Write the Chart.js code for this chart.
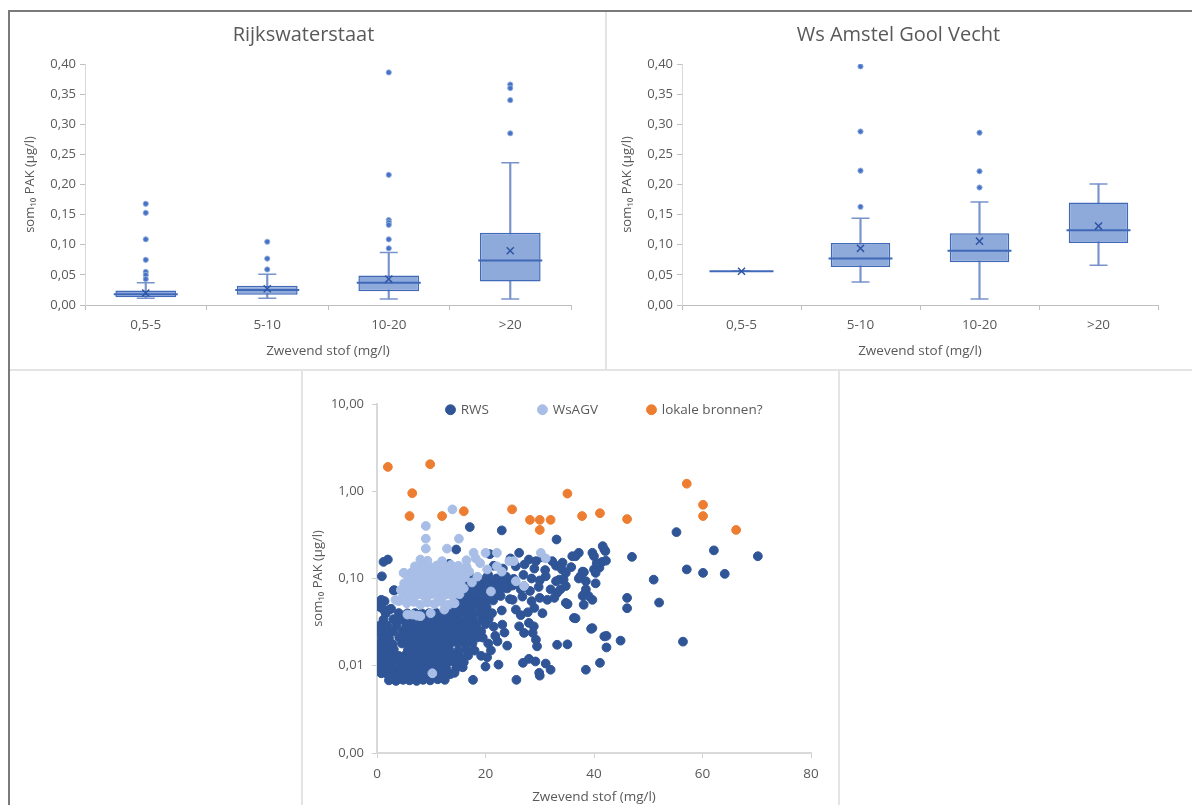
<!DOCTYPE html>
<html><head><meta charset="utf-8">
<script src="https://cdn.jsdelivr.net/npm/chart.js@4.4.0/dist/chart.umd.min.js"></script>
<style>
html,body{margin:0;padding:0;background:#fff;width:1192px;height:805px;overflow:hidden;position:relative;}
.abs{position:absolute;}
.sep{position:absolute;background:#e4e4e4;}
</style></head><body>
<div class="abs" style="left:8px;top:10px;width:2px;height:795px;background:#7a7a7a"></div>
<div class="abs" style="left:8px;top:10px;width:1184px;height:2px;background:#7a7a7a"></div>
<div class="sep" style="left:605px;top:12px;width:2px;height:358px"></div>
<div class="sep" style="left:10px;top:369px;width:1182px;height:2px"></div>
<div class="sep" style="left:301px;top:371px;width:2px;height:434px"></div>
<div class="sep" style="left:838px;top:371px;width:2px;height:434px"></div>
<canvas id="c1" class="abs" style="left:10px;top:12px" width="595" height="356"></canvas>
<canvas id="c2" class="abs" style="left:607px;top:12px" width="585" height="356"></canvas>
<canvas id="c3" class="abs" style="left:303px;top:372px" width="535" height="433"></canvas>
<script>
// ---------- Box plot data ----------
const categories = ['0,5-5', '5-10', '10-20', '>20'];
const boxYTicks = [0, 0.05, 0.10, 0.15, 0.20, 0.25, 0.30, 0.35, 0.40];
const boxYLabels = ['0,00', '0,05', '0,10', '0,15', '0,20', '0,25', '0,30', '0,35', '0,40'];

// Rijkswaterstaat
const rwsMin    = [0.011, 0.011, 0.010, 0.010];
const rwsQ1     = [0.013, 0.017, 0.023, 0.039];
const rwsMedian = [0.018, 0.025, 0.037, 0.074];
const rwsQ3     = [0.024, 0.032, 0.049, 0.120];
const rwsMax    = [0.037, 0.051, 0.087, 0.236];
const rwsMean   = [0.020, 0.027, 0.043, 0.090];
const rwsOutliers = [
  [0.168, 0.153, 0.109, 0.075, 0.055, 0.050, 0.043],
  [0.105, 0.077, 0.059],
  [0.386, 0.216, 0.141, 0.137, 0.133, 0.109, 0.094],
  [0.366, 0.360, 0.340, 0.285]
];

// Ws Amstel Gooi Vecht
const agvMin    = [0.056, 0.038, 0.010, 0.066];
const agvQ1     = [0.056, 0.063, 0.071, 0.103];
const agvMedian = [0.056, 0.077, 0.090, 0.124];
const agvQ3     = [0.056, 0.103, 0.119, 0.170];
const agvMax    = [0.056, 0.144, 0.171, 0.201];
const agvMean   = [0.056, 0.094, 0.106, 0.131];
const agvOutliers = [
  [],
  [0.396, 0.288, 0.223, 0.163],
  [0.286, 0.222, 0.195],
  []
];

// ---------- Scatter data [Zwevend stof, som PAK] ----------
const scatterXTicks = [0, 20, 40, 60, 80];
const scatterXLabels = ['0', '20', '40', '60', '80'];
const scatterYTicks = [0.001, 0.01, 0.1, 1, 10];
const scatterYLabels = ['0,00', '0,01', '0,10', '1,00', '10,00'];

const rwsPoints = [
  [2.2,0.0068],[3.5,0.0067],[4.8,0.0069],[6.0,0.0068],[7.3,0.0067],[8.5,0.0069],[9.8,0.0068],[11.2,0.0070],[12.5,0.0069],
  [0.8,0.0082],[2.0,0.0079],[3.3,0.0080],[4.6,0.0078],[5.9,0.0081],[7.2,0.0079],[8.4,0.0080],[9.7,0.0078],[11.0,0.0081],[12.3,0.0079],[13.5,0.0080],[14.3,0.0083],
  [0.3,0.0095],[1.5,0.0093],[2.8,0.0094],[4.1,0.0092],[5.4,0.0095],[6.6,0.0093],[7.9,0.0094],[9.1,0.0096],[10.4,0.0093],[11.6,0.0095],[12.8,0.0092],[14.6,0.0094],[15.8,0.0096],
  [0.5,0.0111],[1.8,0.0108],[3.0,0.0110],[4.3,0.0112],[5.6,0.0109],[6.9,0.0111],[8.1,0.0108],[9.4,0.0110],[10.7,0.0112],[11.9,0.0109],[13.2,0.0111],[14.4,0.0108],[16.0,0.0110],
  [0.2,0.0129],[1.4,0.0131],[2.7,0.0128],[4.0,0.0130],[5.2,0.0132],[6.5,0.0129],[7.8,0.0131],[9.0,0.0128],[10.3,0.0130],[11.5,0.0132],[12.8,0.0129],[14.0,0.0131],[15.3,0.0128],[16.8,0.0131],
  [0.6,0.0153],[1.9,0.0150],[3.1,0.0154],[5.7,0.0151],[7.0,0.0153],[8.2,0.0150],[9.5,0.0152],[10.8,0.0154],[12.0,0.0151],[13.3,0.0153],[15.0,0.0150],[16.5,0.0152],[18.0,0.0149],
  [0.3,0.0178],[1.6,0.0181],[2.9,0.0177],[4.6,0.0180],[5.9,0.0182],[7.2,0.0178],[8.5,0.0181],[9.7,0.0179],[11.0,0.0182],[12.2,0.0178],[13.5,0.0180],[14.8,0.0183],[16.2,0.0179],[17.6,0.0181],
  [0.9,0.0211],[2.2,0.0208],[4.1,0.0212],[5.4,0.0209],[6.7,0.0211],[7.9,0.0207],[9.2,0.0210],[10.4,0.0212],[11.7,0.0208],[12.9,0.0211],[14.2,0.0209],[15.5,0.0212],[17.0,0.0208],[18.5,0.0211],
  [0.4,0.0248],[1.7,0.0251],[3.0,0.0247],[4.7,0.0250],[6.0,0.0252],[7.3,0.0248],[8.5,0.0251],[9.8,0.0249],[11.0,0.0252],[12.3,0.0248],[13.6,0.0250],[15.0,0.0253],[16.4,0.0249],[17.8,0.0251],[19.2,0.0248],
  [0.6,0.0291],[1.9,0.0288],[3.6,0.0292],[5.4,0.0289],[6.6,0.0291],[7.9,0.0287],[9.1,0.0290],[10.4,0.0292],[11.6,0.0288],[12.9,0.0291],[14.3,0.0289],[15.7,0.0292],[17.0,0.0288],[18.3,0.0291],
  [1.2,0.0338],[3.0,0.0342],[4.6,0.0339],[6.0,0.0341],[7.3,0.0337],[8.6,0.0340],[9.9,0.0343],[11.2,0.0338],[12.5,0.0341],[13.8,0.0339],[15.1,0.0342],[16.5,0.0338],[17.8,0.0341],[19.4,0.0339],[20.6,0.0343],
  [1.6,0.0398],[4.0,0.0402],[5.6,0.0399],[7.0,0.0401],[8.3,0.0397],[9.6,0.0400],[10.9,0.0403],[12.2,0.0398],[13.6,0.0401],[15.0,0.0399],[16.4,0.0402],[17.6,0.0398],[19.0,0.0401],[20.5,0.0399],
  [0.6,0.047],[2.6,0.045],[13.5,0.046],[14.9,0.047],[16.2,0.046],[17.5,0.048],[18.9,0.046],[20.2,0.047],
  [0.5,0.053],[1.4,0.055],[14.6,0.054],[15.8,0.056],[17.2,0.053],[18.6,0.055],[20.0,0.054],[21.4,0.056],
  [15.5,0.063],[16.9,0.064],[18.2,0.062],[19.5,0.065],[21.0,0.063],[22.2,0.064],
  [3.1,0.073],[16.2,0.074],[17.6,0.076],[19.0,0.073],[20.4,0.075],[22.5,0.074],[24.0,0.077],
  [16.8,0.086],[18.3,0.088],[19.7,0.085],[21.2,0.089],[23.0,0.087],[24.5,0.086],
  [17.5,0.101],[18.9,0.098],[20.2,0.102],[23.4,0.100],[25.2,0.099],
  [20.8,0.19],[26.2,0.197],[28.0,0.165],[29.3,0.158],[32.3,0.158],[34.2,0.152],[36.0,0.18],[37.2,0.197],[39.7,0.197],[41.6,0.235],[41.9,0.215],[42.1,0.206],[40.0,0.18],[36.6,0.18],[30.5,0.175],[24.6,0.17],
  [21.5,0.14],[23.2,0.13],[25.6,0.138],[27.2,0.145],[29.0,0.13],[31.0,0.125],[33.0,0.14],[34.1,0.127],[35.8,0.135],[37.9,0.12],[38.1,0.118],[40.0,0.127],[41.0,0.133],[40.5,0.15],[41.5,0.155],[42.2,0.16],[40.3,0.116],[34.8,0.116],
  [20.5,0.11],[22.0,0.1],[23.8,0.105],[25.3,0.095],[27.0,0.11],[28.5,0.1],[30.0,0.095],[31.1,0.106],[33.6,0.097],[33.0,0.093],[34.4,0.097],[37.2,0.1],[37.5,0.106],[38.5,0.093],[40.3,0.088],
  [20.0,0.08],[21.6,0.085],[23.5,0.078],[25.0,0.083],[26.5,0.075],[27.1,0.082],[28.2,0.072],[29.8,0.08],[32.0,0.075],[33.8,0.075],[34.8,0.082],[38.5,0.075],[33.2,0.0685],
  [21.0,0.06],[22.8,0.063],[24.5,0.058],[25.0,0.057],[26.8,0.062],[28.5,0.055],[30.0,0.06],[31.4,0.057],[32.7,0.06],[34.8,0.0525],[35.1,0.051],[37.9,0.063],[38.1,0.065],[39.0,0.063],[39.7,0.057],[38.1,0.05],
  [20.0,0.045],[21.2,0.04],[23.0,0.043],[25.6,0.044],[26.5,0.038],[27.8,0.041],[29.0,0.046],[30.5,0.04],[36.3,0.0353],[36.6,0.035],
  [20.0,0.03],[21.5,0.028],[23.1,0.0296],[26.2,0.0283],[28.0,0.031],[28.9,0.0283],[39.5,0.0266],[39.7,0.027],[0.6,0.0283],
  [27.1,0.0238],[28.7,0.0238],[29.3,0.0199],[29.5,0.0167],[22.2,0.019],[33.2,0.0174],[35.1,0.0176],[41.9,0.0217],[42.3,0.0162],[44.9,0.0194],[56.4,0.0189],
  [22.4,0.0103],[20.0,0.0098],[26.9,0.0108],[28.0,0.012],[29.2,0.0112],[31.1,0.0106],[29.9,0.0083],[30.0,0.0077],[32.0,0.009],[25.7,0.0069],[17.7,0.0069],[38.5,0.009],[41.1,0.0108],
  [19.5,0.021],[20.5,0.018],[21.0,0.015],[19.2,0.013],[20.3,0.0125],[21.8,0.022],[23.5,0.024],[24.0,0.017],
  [17.1,0.389],[23.0,0.356],[33.1,0.28],[14.6,0.215],[2.0,0.165],[1.2,0.155],[0.9,0.106],[3.2,0.0734],[0.8,0.057],[1.2,0.044],[2.3,0.044],
  [11.4,0.138],[13.3,0.147],
  [55.2,0.34],[47.0,0.177],[62.1,0.21],[70.2,0.18],[57.1,0.127],[60.1,0.116],[64.1,0.113],[51.0,0.097],[52.0,0.053],[46.1,0.06],[46.1,0.0456],
  [38.1,0.118],[35.1,0.051],[42.3,0.022],[39.5,0.0266]
];

const agvPoints = [
  [5.6,0.0386],[6.5,0.0386],[7.4,0.0375],[8.0,0.037],[9.9,0.040],[12.4,0.044],
  [3.4,0.057],[4.0,0.055],[5.5,0.052],[6.8,0.054],[8.0,0.050],[9.3,0.053],[10.6,0.051],[11.9,0.054],[13.2,0.050],[14.3,0.052],
  [4.8,0.064],[6.1,0.062],[7.4,0.065],[8.7,0.063],[10.0,0.066],[11.3,0.062],[12.6,0.065],[13.9,0.063],[15.2,0.066],
  [4.4,0.074],[5.6,0.077],[6.9,0.073],[8.2,0.076],[9.5,0.074],[10.8,0.077],[12.1,0.073],[13.4,0.076],[14.7,0.074],[16.0,0.077],
  [5.0,0.088],[6.3,0.086],[7.6,0.090],[8.9,0.087],[10.2,0.085],[11.5,0.089],[12.8,0.086],[14.1,0.090],[15.4,0.087],
  [5.8,0.100],[7.0,0.103],[8.3,0.099],[9.6,0.102],[10.9,0.100],[12.2,0.104],[13.5,0.098],[14.8,0.101],[16.2,0.103],
  [4.9,0.116],[6.4,0.118],[7.7,0.115],[9.0,0.120],[10.3,0.117],[11.6,0.119],[12.9,0.116],[14.2,0.121],[15.6,0.118],[17.0,0.120],
  [7.0,0.138],[8.4,0.142],[9.7,0.137],[11.0,0.141],[12.3,0.139],[13.6,0.143],[15.0,0.140],[16.5,0.137],
  [8.0,0.165],[9.3,0.160],[12.0,0.158],[16.5,0.162],[18.2,0.170],
  [13.9,0.62],[9.0,0.40],[9.0,0.286],[9.0,0.22],[12.9,0.22],[15.1,0.286],[17.8,0.197],[20.0,0.197],[22.1,0.197],
  [20.3,0.127],[22.1,0.138],[23.0,0.12],[25.2,0.158],[30.2,0.197],[31.1,0.17],[24.4,0.158],[27.1,0.082],[25.6,0.093],[21.0,0.071],
  [10.2,0.0082],[5.0,0.116],[19.0,0.15],[18.5,0.105],[17.5,0.09]
];

const localPoints = [
  [2.0,1.90],[9.8,2.04],[6.5,0.95],[6.0,0.52],[12.0,0.52],[16.0,0.59],[24.9,0.62],
  [28.2,0.47],[30.0,0.47],[32.0,0.47],[30.0,0.36],[35.1,0.94],[37.8,0.52],[41.1,0.56],
  [46.1,0.48],[57.1,1.22],[60.1,0.70],[60.1,0.52],[66.2,0.36]
];

// ---------- styles ----------
Chart.defaults.font.family = "'Open Sans', 'DejaVu Sans', sans-serif";
Chart.defaults.color = '#595959';
const boxFill = '#8eaadb';
const boxLine = '#4069b8';
const whiskerColor = '#7893cc';
const meanColor = '#2f55a4';
const axisColor = '#bfbfbf';

function boxChart(id, titleText, mins, q1s, meds, q3s, maxs, means, outliers, padRight) {
  const boxData = categories.map((c, i) => [q1s[i], q3s[i]]);
  const whiskerData = categories.map((c, i) => [mins[i], maxs[i]]);
  const outlierPts = [];
  outliers.forEach((arr, i) => arr.forEach(v => outlierPts.push({x: categories[i], y: v})));
  return new Chart(document.getElementById(id), {
    type: 'bar',
    data: {
      labels: categories,
      datasets: [
        {type: 'bar', data: whiskerData, backgroundColor: whiskerColor, barThickness: 1.5, grouped: false, order: 5},
        {type: 'bar', data: boxData, backgroundColor: boxFill, borderColor: boxLine, borderWidth: 1.5,
         borderSkipped: false, barPercentage: 0.5, categoryPercentage: 1, grouped: false, order: 4},
        {type: 'line', data: mins, showLine: false, pointStyle: 'line', pointRadius: 9,
         pointBorderColor: whiskerColor, pointBorderWidth: 1.5, order: 3},
        {type: 'line', data: maxs, showLine: false, pointStyle: 'line', pointRadius: 9,
         pointBorderColor: whiskerColor, pointBorderWidth: 1.5, order: 3},
        {type: 'line', data: meds, showLine: false, pointStyle: 'line', pointRadius: 32,
         pointBorderColor: boxLine, pointBorderWidth: 2, order: 2},
        {type: 'line', data: means, showLine: false, pointStyle: 'crossRot', pointRadius: 5,
         pointBorderColor: meanColor, pointBorderWidth: 1.5, order: 1},
        {type: 'line', data: outlierPts, showLine: false, pointStyle: 'circle', pointRadius: 2.6,
         pointBackgroundColor: '#4472c4', pointBorderColor: '#93acdc', pointBorderWidth: 1, order: 0}
      ]
    },
    options: {
      responsive: false, animation: false, events: [],
      layout: {padding: {left: 0, right: padRight, top: 11, bottom: 0}},
      plugins: {
        legend: {display: false}, tooltip: {enabled: false},
        title: {display: true, text: titleText, color: '#595959',
                font: {size: 20, weight: 'normal'}, padding: {top: 0, bottom: 17}}
      },
      scales: {
        x: {
          type: 'category', offset: true,
          grid: {offset: true, drawOnChartArea: false, tickLength: 5, color: axisColor},
          border: {color: axisColor},
          ticks: {padding: 7, font: {size: 13.5}},
          title: {display: true, text: 'Zwevend stof (mg/l)', font: {size: 13.5}, padding: {top: 0, bottom: 9}},
          afterFit: s => { s.height = 63; }
        },
        y: {
          min: 0, max: 0.4,
          grid: {drawOnChartArea: false, tickLength: 5, color: axisColor},
          border: {color: '#d9d9d9'},
          afterBuildTicks: s => { s.ticks = boxYTicks.map(v => ({value: v})); },
          ticks: {padding: 4, font: {size: 13}, callback: (v, i) => boxYLabels[i]},
          title: {display: true, text: 'som₁₀ PAK (µg/l)', font: {size: 13}, padding: {top: 12, bottom: 0}},
          afterFit: s => { s.width = 75; }
        }
      }
    }
  });
}

boxChart('c1', 'Rijkswaterstaat', rwsMin, rwsQ1, rwsMedian, rwsQ3, rwsMax, rwsMean, rwsOutliers, 8);
boxChart('c2', 'Ws Amstel Gool Vecht', agvMin, agvQ1, agvMedian, agvQ3, agvMax, agvMean, agvOutliers, 2);

// ---------- scatter ----------
const legendPlace = {
  id: 'legendPlace',
  afterLayout(chart, args, opts) {
    const lg = chart.legend;
    if (!lg) return;
    lg.left = opts.left; lg.right = opts.left + 700; lg.width = 700;
    lg.top = opts.top; lg.bottom = opts.top + 90; lg.height = 90;
  }
};
const toXY = arr => arr.map(p => ({x: p[0], y: p[1]}));
new Chart(document.getElementById('c3'), {
  type: 'scatter',
  data: {
    datasets: [
      {label: 'RWS', data: toXY(rwsPoints), backgroundColor: '#2f5597', borderColor: '#2f5597',
       pointRadius: 4.4, pointBorderWidth: 1, order: 3},
      {label: 'WsAGV', data: toXY(agvPoints), backgroundColor: '#a8bee6', borderColor: '#a8bee6',
       pointRadius: 4.4, pointBorderWidth: 1, order: 2},
      {label: 'lokale bronnen?', data: toXY(localPoints), backgroundColor: '#ed7d31', borderColor: '#ed7d31',
       pointRadius: 4.4, pointBorderWidth: 1, order: 1}
    ]
  },
  plugins: [legendPlace],
  options: {
    responsive: false, animation: false, events: [],
    layout: {padding: {left: 0, right: 27, top: 12, bottom: 0}},
    plugins: {
      tooltip: {enabled: false},
      legendPlace: {left: 94, top: -19},
      legend: {
        display: true, position: 'top', align: 'start', maxHeight: 20,
        labels: {usePointStyle: true, pointStyle: 'circle', boxWidth: 7, boxHeight: 7, padding: 50,
                 color: '#595959', font: {size: 13.5},
                 sort: (a, b) => a.datasetIndex - b.datasetIndex}
      }
    },
    scales: {
      x: {
        type: 'linear', min: 0, max: 80,
        afterBuildTicks: s => { s.ticks = scatterXTicks.map(v => ({value: v})); },
        ticks: {padding: 8, font: {size: 13.5}, callback: (v, i) => scatterXLabels[i]},
        grid: {drawOnChartArea: false, tickLength: 5, color: '#d0d0d0'},
        border: {color: '#d9d9d9', width: 2},
        title: {display: true, text: 'Zwevend stof (mg/l)', font: {size: 13.5}, padding: {top: 0, bottom: 0}},
        afterFit: s => { s.height = 52; }
      },
      y: {
        type: 'logarithmic', min: 0.001, max: 10,
        afterBuildTicks: s => { s.ticks = scatterYTicks.map(v => ({value: v})); },
        ticks: {padding: 8, font: {size: 13}, callback: (v, i) => scatterYLabels[i]},
        grid: {drawOnChartArea: false, tickLength: 5, color: '#d0d0d0'},
        border: {color: '#d9d9d9', width: 2},
        title: {display: true, text: 'som₁₀ PAK (µg/l)', font: {size: 13}, padding: {top: 7, bottom: 0}},
        afterFit: s => { s.width = 74; }
      }
    }
  }
});
</script>
</body></html>
